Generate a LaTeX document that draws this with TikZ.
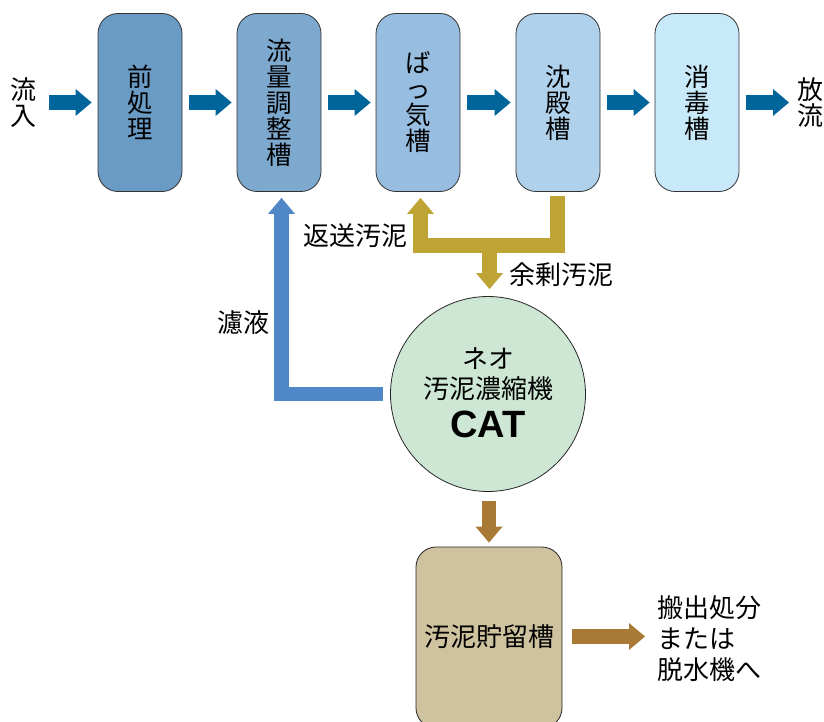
\documentclass[tikz,border=0pt]{standalone}
\usepackage{fontspec}
\setmainfont{Noto Sans CJK JP}
\newfontfamily\catfont{Liberation Sans}
\usetikzlibrary{arrows.meta,calc}
\definecolor{flowblue}{HTML}{00659B}
\definecolor{tankA}{HTML}{6A9BC4}
\definecolor{tankB}{HTML}{7DA9CF}
\definecolor{tankC}{HTML}{97BEE0}
\definecolor{tankD}{HTML}{AFD1EB}
\definecolor{tankE}{HTML}{C8E9F9}
\definecolor{filtblue}{HTML}{4F87C7}
\definecolor{sludgegold}{HTML}{BDA434}
\definecolor{sludgebrown}{HTML}{A97936}
\definecolor{storetan}{HTML}{CFC29F}
\definecolor{catgreen}{HTML}{CDE7D4}
\newcommand\vtxt{\fontsize{25.5}{26}\selectfont}
\newcommand\htxt{\fontsize{26}{26}\selectfont}
\begin{document}
\begin{tikzpicture}[x=1pt,y=-1pt,
  tank/.style={draw=black!80, line width=0.8pt, rounded corners=20pt,
    minimum width=84pt, minimum height=178pt, inner sep=0pt, align=center, font=\vtxt},
  lbl/.style={font=\htxt, inner sep=0pt, align=center},
  blockarrow/.style={line width=14.5pt, line join=miter,
    -{Triangle[length=16pt,width=27pt,line width=0pt]}},
  flow/.style={blockarrow, draw=flowblue}]
\useasboundingbox (0,0) rectangle (824,722);
\fill[white] (0,0) rectangle (824,722);

% top row tanks
\node[tank, fill=tankA] (b1) at (140,102.5) {前\\処\\理};
\node[tank, fill=tankB] (b2) at (279,102.5) {流\\量\\調\\整\\槽};
\node[tank, fill=tankC] (b3) at (418,102.5) {ば\\っ\\気\\槽};
\node[tank, fill=tankD] (b4) at (558,102.5) {沈\\殿\\槽};
\node[tank, fill=tankE] (b5) at (697,102.5) {消\\毒\\槽};

\node[lbl] (inflow) at (23.5,103) {流\\入};
\node[lbl] (outflow) at (810,103) {放\\流};
\coordinate (inS) at (49,102.5);
\coordinate (outE) at (789,102.5);

\draw[flow] (inS) -- ($(b1.west)+(-6,0)$);
\draw[flow] ($(b1.east)+(7,0)$) -- ($(b2.west)+(-5,0)$);
\draw[flow] ($(b2.east)+(7,0)$) -- ($(b3.west)+(-5,0)$);
\draw[flow] ($(b3.east)+(7,0)$) -- ($(b4.west)+(-5,0)$);
\draw[flow] ($(b4.east)+(7,0)$) -- ($(b5.west)+(-5,0)$);
\draw[flow] ($(b5.east)+(7,0)$) -- (outE);

% concentrator
\node[circle, draw=black!85, line width=0.8pt, fill=catgreen, minimum size=195pt, inner sep=0pt] (cat) at (488,394) {};
\node[lbl] (neo) at (488,359) {ネオ};
\node[lbl] (catname) at (488,389) {汚泥濃縮機};
\node[inner sep=0pt, font=\catfont\bfseries\fontsize{38}{38}\selectfont] (catlogo) at (488,424) {CAT};

% return / excess sludge
\coordinate (split) at (489.5,245.5);
\draw[blockarrow, draw=sludgegold] ($(b4.south)+(-0.5,4)$) |- (split) -| ($(b3.south)+(2.5,6)$);
\draw[blockarrow, draw=sludgegold] (split) -- ($(cat.north)+(1.5,-7)$);
\node[lbl] (ret) at (355,236) {返送汚泥};
\node[lbl] (exc) at (561,275) {余剰汚泥};

% filtrate
\draw[blockarrow, draw=filtblue] ($(cat.west)+(-7,0)$) -| ($(b2.south)+(2.5,6)$);
\node[lbl] (filt) at (243,323) {濾液};

% storage
\node[draw=black!85, line width=0.8pt, fill=storetan, rounded corners=20pt,
  minimum width=146pt, minimum height=181pt, inner sep=0pt] (store) at (489,637.5) {};
\node[lbl] (storetxt) at (489,637) {汚泥貯留槽};
\draw[blockarrow, draw=sludgebrown] ($(cat.south)+(1,9)$) -- ($(store.north)+(0,-4)$);
\coordinate (outS) at (645,636.5);
\draw[blockarrow, draw=sludgebrown] ($(store.east)+(10,-1)$) -- (outS);
\node[anchor=west, inner sep=0pt, align=left, font=\fontsize{26}{31}\selectfont] (dest) at (657,639) {搬出処分\\または\\脱水機へ};
\end{tikzpicture}
\end{document}
